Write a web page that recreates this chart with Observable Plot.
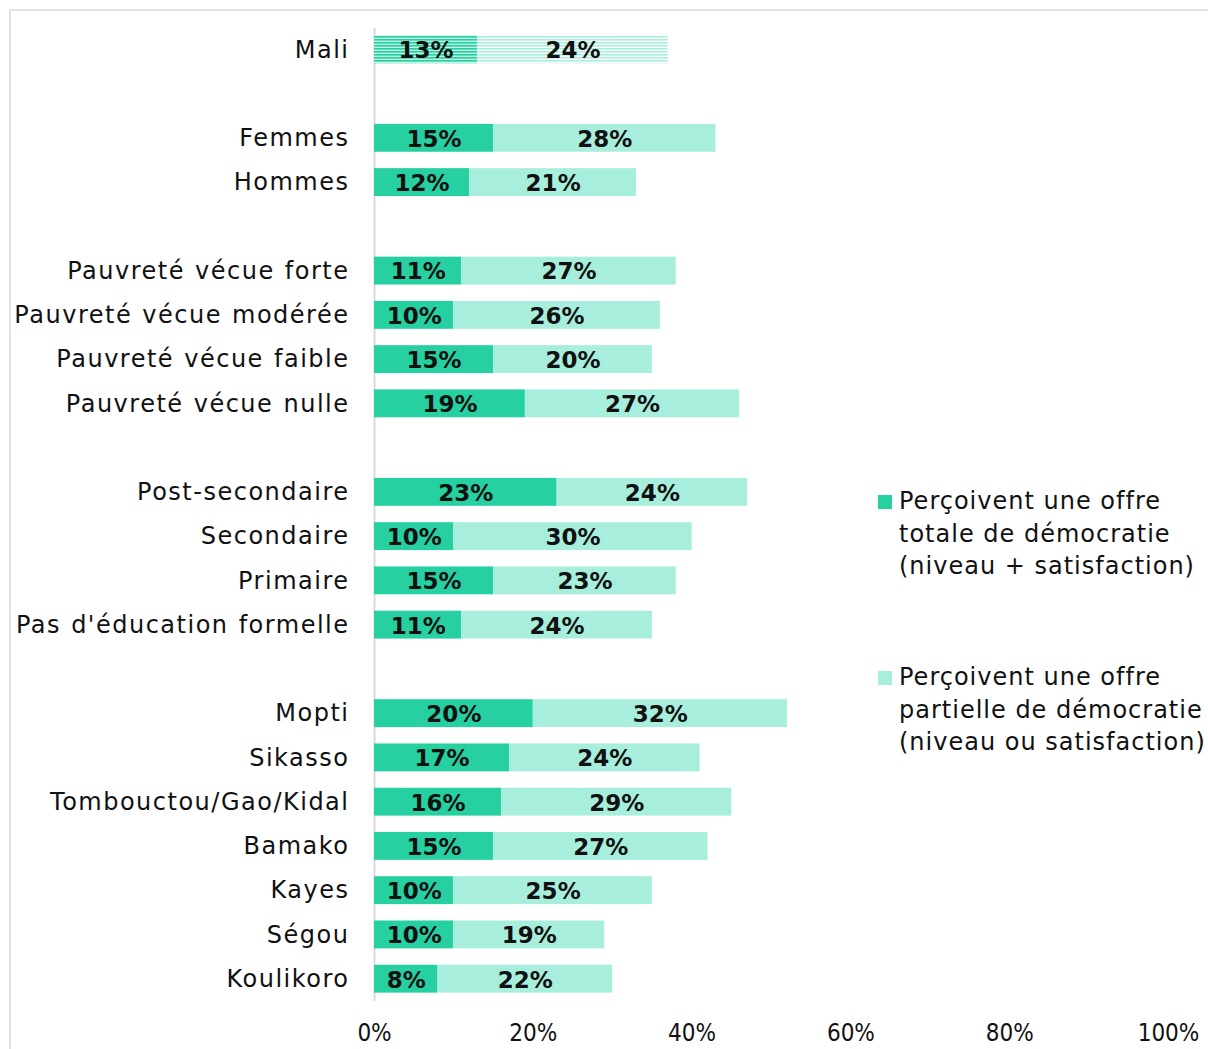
<!DOCTYPE html>
<html>
<head>
<meta charset="utf-8">
<script src="https://cdn.jsdelivr.net/npm/d3@7"></script>
<script src="https://cdn.jsdelivr.net/npm/@observablehq/plot@0.6"></script>
<style>
  html, body { margin: 0; padding: 0; background: #fff; }
  #wrap { position: relative; width: 1208px; height: 1049px; overflow: hidden; font-family: "DejaVu Sans", sans-serif; }
  #frame { position: absolute; left: 9px; top: 9px; width: 1300px; height: 1200px; border-top: 2px solid #e3e3e3; border-left: 2px solid #e3e3e3; }
  #chart { position: absolute; left: 0; top: 0; }
  .legend { position: absolute; left: 878px; font-size: 24px; line-height: 32.5px; color: #111; letter-spacing: 1px; }
  .legend .sw { position: absolute; left: 0; top: 10px; width: 14px; height: 14px; }
  .legend .tx { margin-left: 21px; white-space: nowrap; }
  .ylab text { letter-spacing: 1.5px; word-spacing: 1px; }
</style>
</head>
<body>
<div id="wrap">
  <div id="frame"></div>
  <div id="chart"></div>
  <div class="legend" style="top:485px"><div class="sw" style="background:#26D0A1"></div><div class="tx">Perçoivent une offre<br>totale de démocratie<br>(niveau + satisfaction)</div></div>
  <div class="legend" style="top:661px"><div class="sw" style="background:#A7EFDC"></div><div class="tx">Perçoivent une offre<br>partielle de démocratie<br>(niveau ou satisfaction)</div></div>
</div>
<script>
// Data
const categories = ["Mali", "Femmes", "Hommes", "Pauvreté vécue forte", "Pauvreté vécue modérée", "Pauvreté vécue faible", "Pauvreté vécue nulle", "Post-secondaire", "Secondaire", "Primaire", "Pas d'éducation formelle", "Mopti", "Sikasso", "Tombouctou/Gao/Kidal", "Bamako", "Kayes", "Ségou", "Koulikoro"];
const totale = [13, 15, 12, 11, 10, 15, 19, 23, 10, 15, 11, 20, 17, 16, 15, 10, 10, 8];
const partielle = [24, 28, 21, 27, 26, 20, 27, 24, 30, 23, 24, 32, 24, 29, 27, 25, 19, 22];
// Row order with blank separator rows between groups
const rowOrder = ["Mali", "_s1", "Femmes", "Hommes", "_s2", "Pauvreté vécue forte", "Pauvreté vécue modérée", "Pauvreté vécue faible", "Pauvreté vécue nulle", "_s3", "Post-secondaire", "Secondaire", "Primaire", "Pas d'éducation formelle", "_s4", "Mopti", "Sikasso", "Tombouctou/Gao/Kidal", "Bamako", "Kayes", "Ségou", "Koulikoro"];
const xTicks = [0, 20, 40, 60, 80, 100];

const DARK = "#26D0A1", LIGHT = "#A7EFDC";
const rows = categories.map((c, i) => ({cat: c, t: totale[i], p: partielle[i], mali: c === "Mali"}));
const others = rows.filter(d => !d.mali);
const mali = rows.filter(d => d.mali);

const svg = Plot.plot({
  width: 1208,
  height: 1049,
  marginLeft: 374,
  marginRight: 40,
  marginTop: 19,
  marginBottom: 40,
  style: {fontFamily: "DejaVu Sans, sans-serif", background: "transparent", overflow: "visible"},
  x: {domain: [0, 100]},
  y: {domain: rowOrder, paddingInner: 0.37, paddingOuter: 0.37, round: false},
  marks: [
    Plot.ruleX([0], {stroke: "#d9d9d9", strokeWidth: 2, insetTop: 9, insetBottom: 8}),
    Plot.barX(others, {y: "cat", x1: 0, x2: "t", fill: DARK}),
    Plot.barX(others, {y: "cat", x1: "t", x2: d => d.t + d.p, fill: LIGHT}),
    Plot.barX(mali, {y: "cat", x1: 0, x2: "t", fill: "url(#stripeDark)"}),
    Plot.barX(mali, {y: "cat", x1: "t", x2: d => d.t + d.p, fill: "url(#stripeLight)"}),
    Plot.text(rows, {y: "cat", x: d => d.t / 2, text: d => d.t + "%", fontWeight: "bold", fontSize: 23, fill: "#111", dy: 1}),
    Plot.text(rows, {y: "cat", x: d => d.t + d.p / 2, text: d => d.p + "%", fontWeight: "bold", fontSize: 23, fill: "#111", dy: 1}),
    Plot.axisY({tickSize: 0, tickPadding: 25, fontSize: 24, label: null, className: "ylab", tickFormat: d => d.startsWith("_s") ? "" : d, fill: "#111"}),
    Plot.axisX({ticks: xTicks, tickSize: 0, tickPadding: 14, fontSize: 24, label: null, tickFormat: d => d + "%", fill: "#111", fontFamily: "DejaVu Sans Condensed, Liberation Sans Narrow, sans-serif"})
  ]
});

const defs = d3.select(svg).insert("defs", ":first-child");
defs.html(`
  <pattern id="stripeDark" patternUnits="userSpaceOnUse" width="10" height="3">
    <rect width="10" height="3" fill="#bff3e4"></rect>
    <rect width="10" height="1.6" fill="${DARK}"></rect>
  </pattern>
  <pattern id="stripeLight" patternUnits="userSpaceOnUse" width="10" height="3">
    <rect width="10" height="3" fill="#ffffff"></rect>
    <rect width="10" height="1.6" fill="${LIGHT}"></rect>
  </pattern>`);

document.getElementById("chart").appendChild(svg);
</script>
</body>
</html>
